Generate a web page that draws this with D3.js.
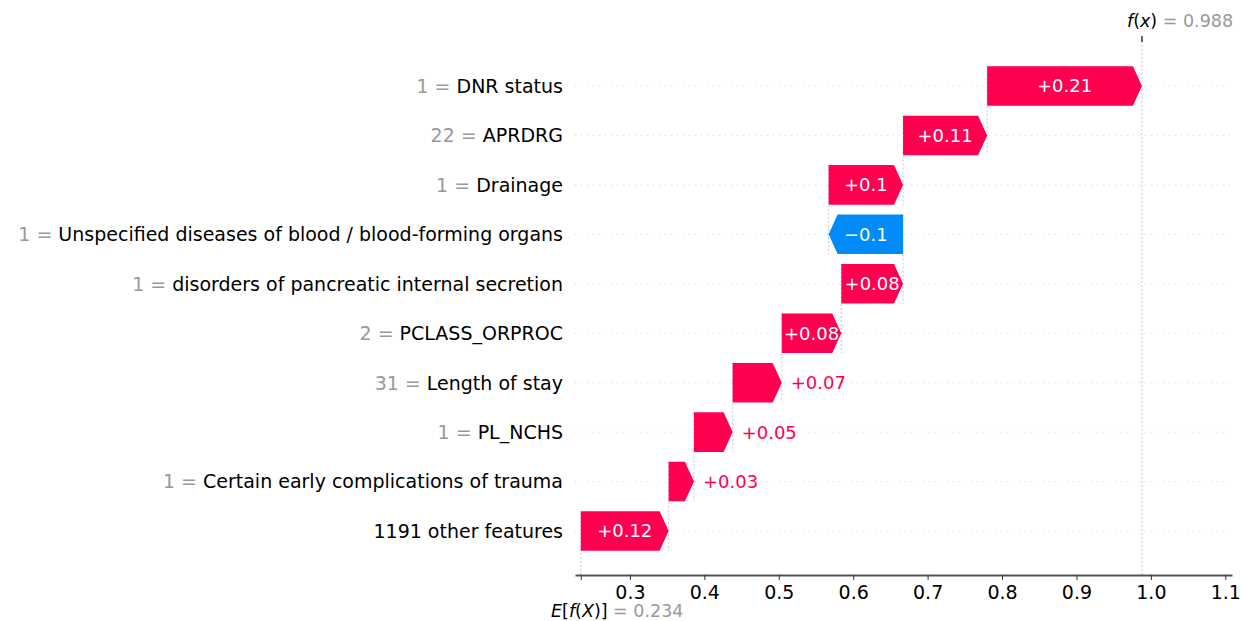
<!DOCTYPE html>
<html>
<head>
<meta charset="utf-8">
<script src="https://cdn.jsdelivr.net/npm/d3@7"></script>
<style>
  body { margin: 0; background: #fff; }
  svg { font-family: "DejaVu Sans", sans-serif; }
</style>
</head>
<body>
<div id="chart"></div>
<script>
// rows from top to bottom
var features = ["DNR status", "APRDRG", "Drainage",
  "Unspecified diseases of blood / blood-forming organs",
  "disorders of pancreatic internal secretion", "PCLASS_ORPROC",
  "Length of stay", "PL_NCHS", "Certain early complications of trauma",
  "1191 other features"]
var featureValues = ["1", "22", "1", "1", "1", "2", "31", "1", "1", ""]
var shapValues = [0.208, 0.113, 0.100, -0.100, 0.083, 0.080, 0.066, 0.052, 0.034, 0.118]
var baseValue = 0.234
var fxLabel = "0.988"
var baseLabel = "0.234"
var xTicks = [0.3, 0.4, 0.5, 0.6, 0.7, 0.8, 0.9, 1.0, 1.1]

var w = 1241, h = 621
var pink = "#ff0051", blue = "#008bfb"
var n = features.length

var svg = d3.select("#chart").append("svg")
  .attr("width", w).attr("height", h)

var x = d3.scaleLinear().domain([0.2262, 1.109]).range([575, 1232])
// row index 0 = bottom bar, n-1 = top bar
var y = d3.scaleLinear().domain([-0.89, n - 1 + 0.89]).range([575, 42])

// cumulative positions, built from the bottom up
var bars = []
var loc = baseValue
for (var i = n - 1; i >= 0; i--) {
  bars.push({ row: n - 1 - i, name: features[i], fval: featureValues[i],
    v: shapValues[i], start: loc, end: loc + shapValues[i] })
  loc += shapValues[i]
}
var fx = loc

function fmt(v) {
  var s = Math.abs(v).toFixed(2).replace(/0+$/, "").replace(/\.$/, "")
  return (v >= 0 ? "+" : "\u2212") + s
}

// horizontal dotted grid lines
svg.append("g").selectAll("line").data(bars).join("line")
  .attr("x1", x.range()[0]).attr("x2", x.range()[1])
  .attr("y1", d => y(d.row)).attr("y2", d => y(d.row))
  .attr("stroke", "#cccccc").attr("stroke-width", 0.8)
  .attr("stroke-dasharray", "1,5")

// dashed connectors
var conn = svg.append("g").attr("stroke", "#bbbbbb").attr("stroke-width", 0.8)
  .attr("stroke-dasharray", "2,2")
bars.forEach(function(d) {
  if (d.row === 0) return
  conn.append("line")
    .attr("x1", x(d.start)).attr("x2", x(d.start))
    .attr("y1", y(d.row + 0.4)).attr("y2", y(d.row - 1 - 0.4))
})
conn.append("line").attr("x1", x(baseValue)).attr("x2", x(baseValue))
  .attr("y1", y(-0.89)).attr("y2", y(0.4))
conn.append("line").attr("x1", x(fx)).attr("x2", x(fx))
  .attr("y1", y(-0.89)).attr("y2", y(n - 1 + 0.89))

// arrows
var headLen = 9
function arrow(d) {
  var x0 = x(d.start), x1 = x(d.end)
  var top = y(d.row + 0.4), bot = y(d.row - 0.4), mid = y(d.row)
  var hl = Math.min(headLen, Math.abs(x1 - x0))
  var dir = x1 >= x0 ? 1 : -1
  return d3.line()([[x0, top], [x1 - dir * hl, top], [x1, mid], [x1 - dir * hl, bot], [x0, bot]]) + "Z"
}
svg.append("g").selectAll("path").data(bars).join("path")
  .attr("d", arrow)
  .attr("fill", d => d.v >= 0 ? pink : blue)

// value labels
svg.append("g").selectAll("text").data(bars).join("text")
  .attr("y", d => y(d.row)).attr("dy", "0.36em")
  .attr("font-size", 18)
  .text(d => fmt(d.v))
  .each(function(d) {
    var t = d3.select(this)
    var tw = this.getComputedTextLength()
    var bw = Math.abs(x(d.end) - x(d.start))
    if (tw + 2 < bw) {
      t.attr("x", (x(d.start) + x(d.end)) / 2).attr("text-anchor", "middle").attr("fill", "#fff")
    } else if (d.v >= 0) {
      t.attr("x", x(d.end) + 9).attr("text-anchor", "start").attr("fill", pink)
    } else {
      t.attr("x", x(d.end) - 9).attr("text-anchor", "end").attr("fill", blue)
    }
  })

// y labels
var yl = svg.append("g").selectAll("text").data(bars).join("text")
  .attr("x", 563).attr("y", d => y(d.row)).attr("dy", "0.36em")
  .attr("text-anchor", "end").attr("font-size", 19)
yl.append("tspan").attr("fill", "#999999").text(d => d.fval ? d.fval + " = " : "")
yl.append("tspan").attr("fill", "#000").text(d => d.name)

// bottom axis
var axis = svg.append("g").attr("transform", "translate(0,575)")
  .call(d3.axisBottom(x).tickValues(xTicks.concat([baseValue]))
    .tickFormat(d => d === baseValue ? "" : d3.format(".1f")(d))
    .tickSize(5).tickSizeOuter(0))
axis.select(".domain").attr("stroke", "#555").attr("stroke-width", 2)
axis.selectAll(".tick line").attr("stroke", "#333")
axis.selectAll(".tick text").attr("font-size", 19).attr("fill", "#000")
  .attr("font-family", "DejaVu Sans").attr("dy", "0.85em")

// E[f(X)] label
var et = svg.append("text").attr("x", 551).attr("y", 617).attr("font-size", 17.5)
et.append("tspan").attr("font-style", "italic").text("E")
et.append("tspan").text("[")
et.append("tspan").attr("font-style", "italic").text("f")
et.append("tspan").text("(")
et.append("tspan").attr("font-style", "italic").text("X")
et.append("tspan").text(")]")
et.append("tspan").attr("fill", "#999999").text(" = " + baseLabel)

// top f(x) tick and label
svg.append("line").attr("x1", x(fx)).attr("x2", x(fx)).attr("y1", 36).attr("y2", 42)
  .attr("stroke", "#333").attr("stroke-width", 1.5)
var ft = svg.append("text").attr("x", 1127).attr("y", 27).attr("font-size", 17.5)
ft.append("tspan").attr("font-style", "italic").text("f")
ft.append("tspan").text("(")
ft.append("tspan").attr("font-style", "italic").text("x")
ft.append("tspan").text(")")
ft.append("tspan").attr("fill", "#999999").text(" = " + fxLabel)
</script>
</body>
</html>
